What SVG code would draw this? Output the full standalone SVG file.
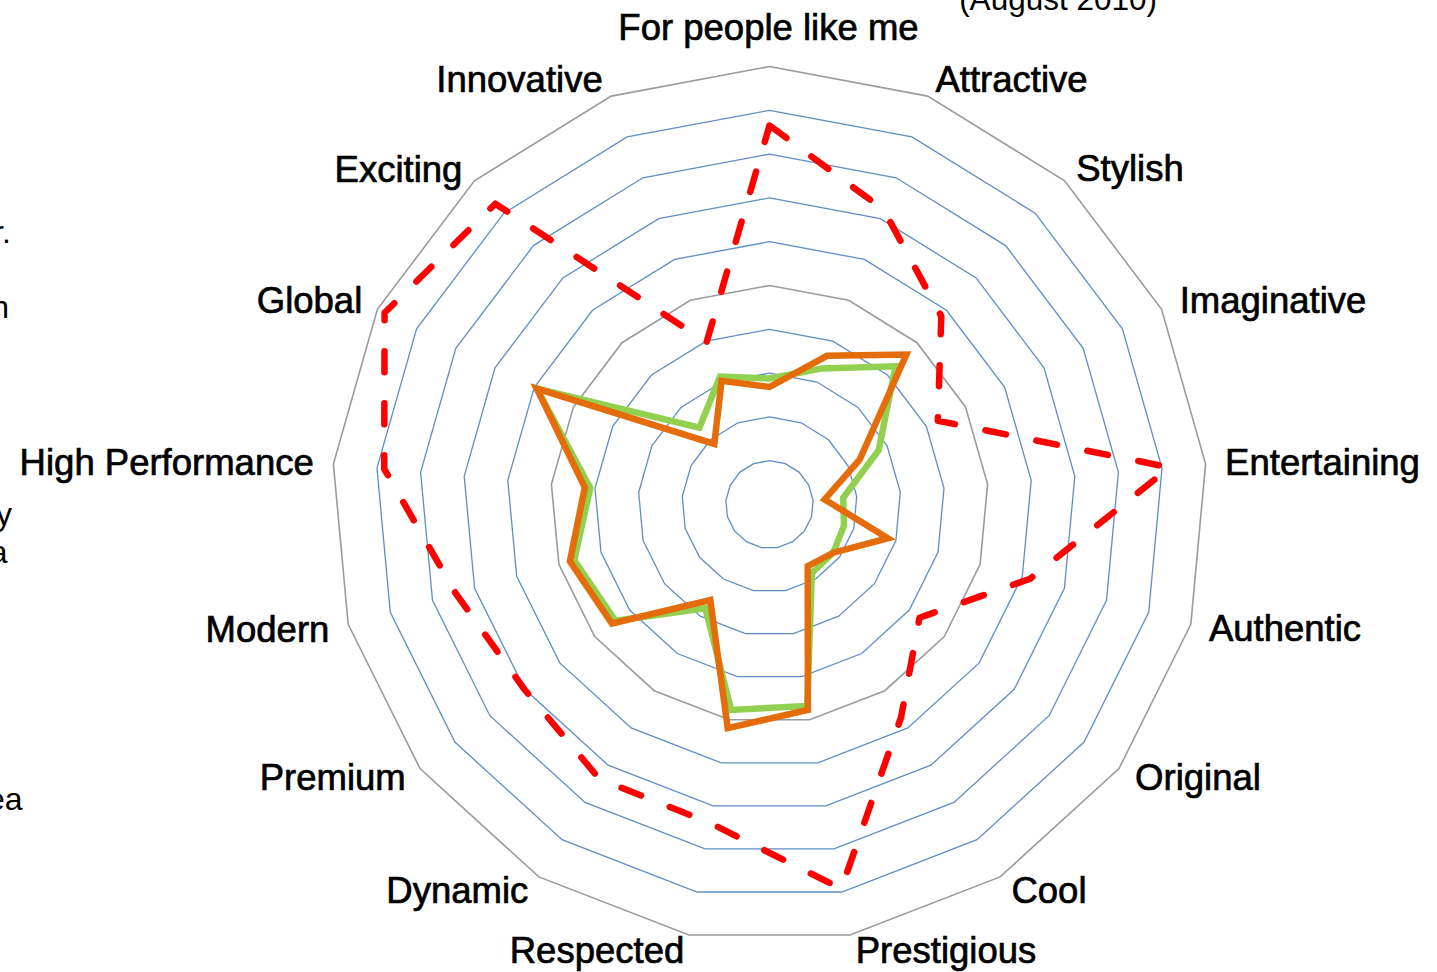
<svg xmlns="http://www.w3.org/2000/svg" width="1437" height="972" viewBox="0 0 1437 972">
<style>
.bg{fill:#ffffff}
.minor{fill:none;stroke:#4f81bd;stroke-width:1.3;stroke-opacity:0.9}
.major{fill:none;stroke:#9b9b9b;stroke-width:1.6}
.s-green{fill:none;stroke:#92d050;stroke-width:6.5;stroke-linejoin:miter;stroke-miterlimit:6}
.s-orange{fill:none;stroke:#e46c0a;stroke-width:6.5;stroke-linejoin:miter;stroke-miterlimit:6}
.s-red{fill:none;stroke:#ff0000;stroke-width:6.5;stroke-linecap:round;stroke-linejoin:round;stroke-dasharray:21 31}
.lbl{font-family:"Liberation Sans",Arial,sans-serif;font-size:36.5px;fill:#000;stroke:#000;stroke-width:0.7;text-anchor:middle}
.side{font-family:"Liberation Sans",Arial,sans-serif;font-size:32px;fill:#000;text-anchor:end}
</style>
<rect class="bg" x="0" y="0" width="1437" height="972"/>
<g id="grid" transform="translate(769.5 504.5)">
<polygon class="minor" points="0,-43.8 15.8,-40.8 29.5,-32.4 39.2,-19.5 43.6,-4 42.1,12 35,26.4 23.1,37.2 8,43.1 -8,43.1 -23.1,37.2 -35,26.4 -42.1,12 -43.6,-4 -39.2,-19.5 -29.5,-32.4 -15.8,-40.8"/>
<polygon class="minor" points="0,-87.6 31.6,-81.7 59,-64.7 78.4,-39 87.2,-8.1 84.3,24 69.9,52.8 46.1,74.5 16.1,86.1 -16.1,86.1 -46.1,74.5 -69.9,52.8 -84.3,24 -87.2,-8.1 -78.4,-39 -59,-64.7 -31.6,-81.7"/>
<polygon class="minor" points="0,-131.4 47.5,-122.5 88.5,-97.1 117.6,-58.6 130.8,-12.1 126.4,36 104.9,79.2 69.2,111.7 24.1,129.2 -24.1,129.2 -69.2,111.7 -104.9,79.2 -126.4,36 -130.8,-12.1 -117.6,-58.6 -88.5,-97.1 -47.5,-122.5"/>
<polygon class="minor" points="0,-175.2 63.3,-163.4 118,-129.5 156.8,-78.1 174.5,-16.2 168.5,47.9 139.8,105.6 92.2,149 32.2,172.2 -32.2,172.2 -92.2,149 -139.8,105.6 -168.5,47.9 -174.5,-16.2 -156.8,-78.1 -118,-129.5 -63.3,-163.4"/>
<polygon class="major" points="0,-219 79.1,-204.2 147.5,-161.8 196,-97.6 218.1,-20.2 210.6,59.9 174.8,132 115.3,186.2 40.2,215.3 -40.2,215.3 -115.3,186.2 -174.8,132 -210.6,59.9 -218.1,-20.2 -196,-97.6 -147.5,-161.8 -79.1,-204.2"/>
<polygon class="minor" points="0,-262.8 94.9,-245.1 177,-194.2 235.2,-117.1 261.7,-24.2 252.8,71.9 209.7,158.4 138.3,223.4 48.3,258.3 -48.3,258.3 -138.3,223.4 -209.7,158.4 -252.8,71.9 -261.7,-24.2 -235.2,-117.1 -177,-194.2 -94.9,-245.1"/>
<polygon class="minor" points="0,-306.6 110.8,-285.9 206.6,-226.6 274.5,-136.7 305.3,-28.3 294.9,83.9 244.7,184.8 161.4,260.7 56.3,301.4 -56.3,301.4 -161.4,260.7 -244.7,184.8 -294.9,83.9 -305.3,-28.3 -274.5,-136.7 -206.6,-226.6 -110.8,-285.9"/>
<polygon class="minor" points="0,-350.4 126.6,-326.7 236.1,-258.9 313.7,-156.2 348.9,-32.3 337,95.9 279.6,211.2 184.5,297.9 64.4,344.4 -64.4,344.4 -184.5,297.9 -279.6,211.2 -337,95.9 -348.9,-32.3 -313.7,-156.2 -236.1,-258.9 -126.6,-326.7"/>
<polygon class="minor" points="0,-394.2 142.4,-367.6 265.6,-291.3 352.9,-175.7 392.5,-36.4 379.2,107.9 314.6,237.6 207.5,335.2 72.4,387.5 -72.4,387.5 -207.5,335.2 -314.6,237.6 -379.2,107.9 -392.5,-36.4 -352.9,-175.7 -265.6,-291.3 -142.4,-367.6"/>
<polygon class="major" points="0,-438 158.2,-408.4 295.1,-323.7 392.1,-195.2 436.1,-40.4 421.3,119.9 349.5,264 230.6,372.4 80.5,430.5 -80.5,430.5 -230.6,372.4 -349.5,264 -421.3,119.9 -436.1,-40.4 -392.1,-195.2 -295.1,-323.7 -158.2,-408.4"/>
</g>
<g id="series" transform="translate(769.5 504.5)">
<polygon id="series-green" class="s-green" points="0,-126 52.7,-136.1 126,-138.2 109.2,-54.4 73.7,-6.8 74.5,21.2 63.8,48.2 42.4,68.4 37.7,201.5 -38.4,205.4 -64.2,103.7 -154,116.3 -195.3,55.6 -179.2,-16.6 -232.7,-115.9 -70.1,-76.9 -49.5,-127.8"/>
<polygon id="series-orange" class="s-orange" points="0,-117.5 57.6,-148.7 136.8,-150 90.1,-44.8 55.1,-5.1 118.3,33.7 63.8,48.2 38.2,61.6 38.4,205.4 -41.8,223.6 -59.2,95.6 -157.6,119 -199.6,56.8 -184.7,-17.1 -232.7,-115.9 -55.2,-60.6 -47.9,-123.6"/>
<polygon id="series-red" class="s-red" points="0,-379 114.2,-294.7 171.8,-188.4 168.3,-83.8 400.3,-37.1 260.7,74.2 150,113.3 131.6,212.6 71.8,384.3 -59.5,318.5 -170,274.6 -245,185 -313.6,89.2 -385.3,-35.7 -384.9,-191.7 -274.2,-300.8 -62.9,-162.3"/>
</g>
<g id="axis-labels">
<text id="lbl-people" class="lbl" x="768.5" y="39.5">For people like me</text>
<text id="lbl-attractive" class="lbl" x="1011.5" y="91.7">Attractive</text>
<text id="lbl-stylish" class="lbl" x="1130" y="181">Stylish</text>
<text id="lbl-imaginative" class="lbl" x="1273" y="313.3">Imaginative</text>
<text id="lbl-entertaining" class="lbl" x="1322.5" y="474.5">Entertaining</text>
<text id="lbl-authentic" class="lbl" x="1285" y="641">Authentic</text>
<text id="lbl-original" class="lbl" x="1198" y="790">Original</text>
<text id="lbl-cool" class="lbl" x="1049" y="903">Cool</text>
<text id="lbl-prestigious" class="lbl" x="946" y="963">Prestigious</text>
<text id="lbl-respected" class="lbl" x="597" y="963">Respected</text>
<text id="lbl-dynamic" class="lbl" x="457.3" y="903">Dynamic</text>
<text id="lbl-premium" class="lbl" x="332.7" y="790">Premium</text>
<text id="lbl-modern" class="lbl" x="267.5" y="641.7">Modern</text>
<text id="lbl-highperf" class="lbl" x="166.7" y="475">High Performance</text>
<text id="lbl-global" class="lbl" x="309.5" y="313">Global</text>
<text id="lbl-exciting" class="lbl" x="398.5" y="181.7">Exciting</text>
<text id="lbl-innovative" class="lbl" x="519.5" y="91.7">Innovative</text>
</g>
<g id="other-text">
<text id="date" class="side" x="1157" y="10" style="font-size:31.5px">(August 2010)</text>
<text class="side" x="11" y="243">r.</text>
<text class="side" x="9" y="318">n</text>
<text class="side" x="12" y="525">y</text>
<text class="side" x="7.5" y="563">a</text>
<text class="side" x="22.5" y="810">ea</text>
</g>
</svg>
